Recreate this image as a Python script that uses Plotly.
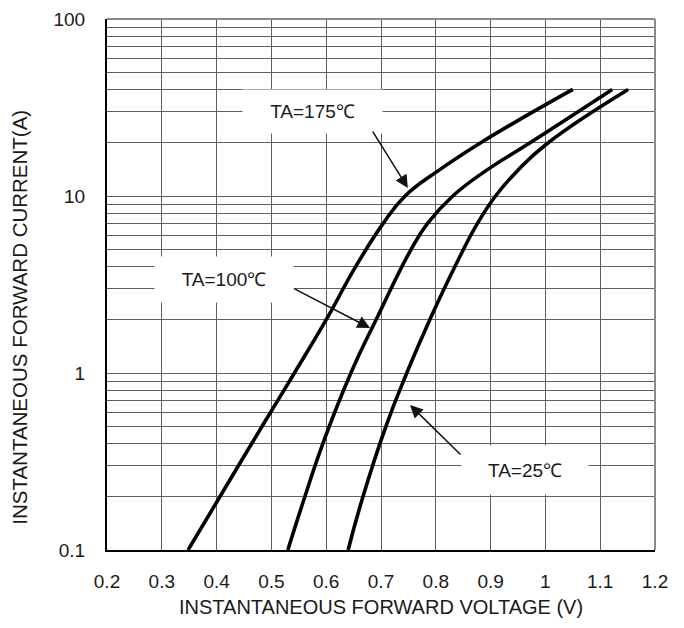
import plotly.graph_objects as go

# ---- data ----
current_175 = [0.1, 0.2, 0.5, 1, 2, 4, 7, 10, 14, 20, 40]
voltage_175 = [0.348, 0.406, 0.483, 0.542, 0.600, 0.654, 0.704, 0.744, 0.806, 0.882, 1.050]

current_100 = [0.1, 0.2, 0.4, 1, 2, 5, 7, 10, 14, 20, 40]
voltage_100 = [0.530, 0.561, 0.594, 0.645, 0.691, 0.755, 0.785, 0.831, 0.893, 0.972, 1.122]

current_25 = [0.1, 0.2, 0.5, 1, 2, 4, 7, 10, 14, 20, 40]
voltage_25 = [0.640, 0.667, 0.709, 0.747, 0.789, 0.835, 0.876, 0.909, 0.950, 1.005, 1.151]

x_ticks = [0.2, 0.3, 0.4, 0.5, 0.6, 0.7, 0.8, 0.9, 1.0, 1.1, 1.2]
x_ticktext = ["0.2", "0.3", "0.4", "0.5", "0.6", "0.7", "0.8", "0.9", "1", "1.1", "1.2"]
y_decades = [0.1, 1, 10, 100]
y_decade_text = ["0.1", "1", "10", "100"]

labels = ["TA=175℃", "TA=100℃", "TA=25℃"]

# grid values for the log axis (1..9 per decade)
y_ticks, y_ticktext = [], []
for d in [0.1, 1, 10]:
    for m in range(1, 10):
        v = round(d * m, 6)
        y_ticks.append(v)
        y_ticktext.append(y_decade_text[y_decades.index(v)] if v in y_decades else "")
y_ticks.append(100)
y_ticktext.append("100")

FONT = "Liberation Sans, Arial, sans-serif"

fig = go.Figure()
for v, c in [(voltage_175, current_175), (voltage_100, current_100), (voltage_25, current_25)]:
    fig.add_trace(go.Scatter(x=v, y=c, mode="lines",
                             line=dict(color="black", width=3.6, shape="spline", smoothing=1.3),
                             showlegend=False, hoverinfo="skip"))

fig.update_layout(
    width=684, height=628,
    margin=dict(l=99, r=37, t=11, b=86, autoexpand=False),
    paper_bgcolor="white", plot_bgcolor="white",
    xaxis=dict(range=[0.2, 1.2], tickvals=x_ticks, ticktext=x_ticktext,
               showgrid=True, gridcolor="#5e5e5e", gridwidth=1,
               showline=True, linecolor="black", linewidth=2,
               ticks="", ticklabelstandoff=13, automargin=False,
               tickfont=dict(family=FONT, size=19, color="#1a1a1a"),
               zeroline=False),
    yaxis=dict(type="log", range=[-1, 2], tickvals=y_ticks, ticktext=y_ticktext,
               showgrid=True, gridcolor="#5e5e5e", gridwidth=1,
               showline=True, linecolor="black", linewidth=2,
               ticks="", ticklabelstandoff=16, automargin=False,
               tickfont=dict(family=FONT, size=19, color="#1a1a1a"),
               zeroline=False),
)

# frame top / right
fig.add_shape(type="line", xref="paper", yref="paper", x0=0, x1=1, y0=1, y1=1,
              line=dict(color="#8a8a8a", width=2))
fig.add_shape(type="line", xref="paper", yref="paper", x0=1, x1=1, y0=0, y1=1,
              line=dict(color="#8a8a8a", width=2))

# label boxes (white background hides grid)
box_pos = [(0.575, 1.477, 139, 43), (0.4135, 0.528, 138, 45), (0.963, -0.548, 126, 48)]
for (bx, by, bw, bh), t in zip(box_pos, labels):
    fig.add_annotation(x=bx, y=by, xref="x", yref="y", text=t, showarrow=False,
                       bgcolor="white", width=bw, height=bh, borderpad=0,
                       font=dict(family=FONT, size=19, color="#1a1a1a"))

# arrows
arrows = [(0.749, 1.045, -36, -58), (0.680, 0.254, -77, -40), (0.753, -0.181, 52, 51)]
for hx, hy, ax, ay in arrows:
    fig.add_annotation(x=hx, y=hy, xref="x", yref="y", text="", showarrow=True,
                       ax=ax, ay=ay, arrowhead=2, arrowsize=1.7, arrowwidth=1.5,
                       arrowcolor="#111")

# axis titles
fig.add_annotation(text="INSTANTANEOUS FORWARD VOLTAGE (V)", xref="paper", yref="paper",
                   x=0.5, y=-0.107, showarrow=False, xanchor="center", yanchor="middle",
                   font=dict(family=FONT, size=20, color="#1a1a1a"))
fig.add_annotation(text="INSTANTANEOUS FORWARD CURRENT(A)", xref="paper", yref="paper",
                   x=-0.159, y=0.439, showarrow=False, textangle=-90,
                   xanchor="center", yanchor="middle",
                   font=dict(family=FONT, size=20.5, color="#1a1a1a"))

fig.write_html("out.html")
